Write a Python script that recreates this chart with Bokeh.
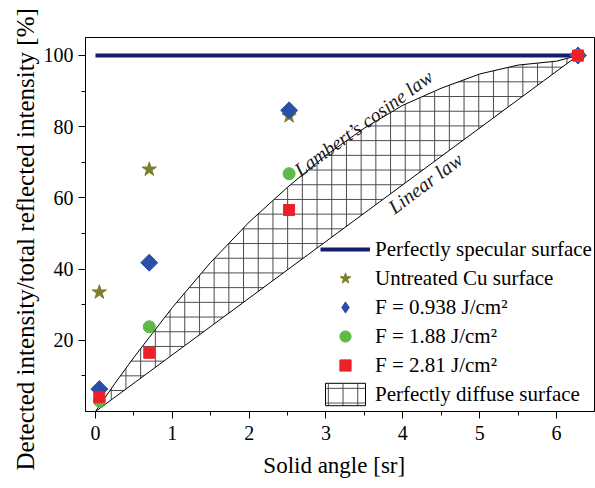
import math
from bokeh.plotting import figure
from bokeh.models import FixedTicker, Legend, LegendItem, Label, Range1d, Title
from bokeh.embed import file_html
from bokeh.resources import INLINE

# ---- data ----
solid_angle = [0.05, 0.70, 2.52, 6.28]
untreated = [33.5, 68.0, 83.0, 100.0]
f_0938 = [6.3, 41.8, 84.6, 100.0]
f_188 = [3.0, 23.8, 66.8, 100.0]
f_281 = [4.0, 16.5, 56.6, 100.0]

specular_x = [0.0, 6.28]
specular_y = [100.0, 100.0]

# Lambert's cosine law curve (upper edge); the patch closes back to the origin
# along the straight "linear law" edge
lambert_x = [0.0, 0.25, 0.5, 1.0, 1.5, 2.0, 2.5, 3.0, 3.5, 4.0, 4.5, 5.0, 5.5, 6.0, 6.28]
lambert_y = [0.0, 7.8, 15.2, 29.2, 41.9, 53.2, 63.0, 72.0, 79.6, 86.0, 90.8, 94.8, 97.3, 98.4, 100.0]

x_ticks = [0, 1, 2, 3, 4, 5, 6]
x_minor = [0.5, 1.5, 2.5, 3.5, 4.5, 5.5]
y_ticks = [20, 40, 60, 80, 100]
y_minor = [10, 30, 50, 70, 90]

labels = ["Perfectly specular surface", "Untreated Cu surface",
          "F = 0.938 J/cm\u00b2", "F = 1.88 J/cm\u00b2", "F = 2.81 J/cm\u00b2",
          "Perfectly diffuse surface"]
x_title = "Solid angle [sr]"
y_title = "Detected intensity/total reflected intensity [%]"

FONT = "'Liberation Serif', serif"
NB = "\u00a0"

p = figure(width=595, height=488,
           x_range=Range1d(-0.13, 6.495), y_range=Range1d(0, 105.05),
           output_backend="svg", toolbar_location=None,
           min_border_left=85, min_border_right=1, min_border_top=37, min_border_bottom=77)

p.xgrid.visible = False
p.ygrid.visible = False
p.outline_line_color = "black"
p.outline_line_width = 1
p.background_fill_color = "white"
p.border_fill_color = "white"

p.xaxis.ticker = FixedTicker(ticks=x_ticks, minor_ticks=x_minor)
p.yaxis.ticker = FixedTicker(ticks=y_ticks, minor_ticks=y_minor)
p.xaxis.axis_label = x_title + NB * 2

for ax in (p.xaxis, p.yaxis):
    ax.major_tick_out = 7
    ax.major_tick_in = 0
    ax.minor_tick_out = 4
    ax.minor_tick_in = 0
    ax.axis_line_color = "black"
    ax.major_tick_line_color = "black"
    ax.minor_tick_line_color = "black"
    ax.major_label_text_font = FONT
    ax.major_label_text_font_size = "20px"
    ax.major_label_text_color = "black"
    ax.axis_label_text_font = FONT
    ax.axis_label_text_font_style = "normal"
    ax.axis_label_text_color = "black"
p.xaxis.major_label_standoff = 7
p.yaxis.major_label_standoff = 5
p.xaxis.axis_label_text_font_size = "23px"
p.xaxis.axis_label_standoff = 10

# y title as a side title so it can start below the frame bottom like the reference
ytitle = Title(text=y_title, align="left", offset=-59, standoff=3,
               text_font=FONT, text_font_size="25px", text_font_style="normal",
               text_color="black")
p.add_layout(ytitle, "left")

diffuse = p.patch(lambert_x, lambert_y, fill_color=None, line_color="black", line_width=1,
                  hatch_pattern="+", hatch_color="#4a4a4a", hatch_scale=14.7, hatch_weight=1)
specular = p.line(specular_x, specular_y, line_color="#141c6e", line_width=4)
stars = p.scatter(solid_angle, untreated, marker="star", size=15,
                  fill_color="#7d7d2e", line_color="#7d7d2e")
# diamond-shaped swatch used by the legend (hidden under the rotated squares)
diamond_key = p.scatter(solid_angle, f_0938, marker="diamond", size=11,
                        fill_color="#2b4fa6", line_color="#2b4fa6")
diamonds = p.scatter(solid_angle, f_0938, marker="square", angle=math.pi / 4, size=12,
                     fill_color="#2b4fa6", line_color="#2b4fa6")
circles = p.scatter(solid_angle, f_188, marker="circle", size=12,
                    fill_color="#5cba45", line_color="#5cba45")
squares = p.scatter(solid_angle, f_281, marker="square", size=11,
                    fill_color="#ec2028", line_color="#ec2028")

legend = Legend(items=[
    LegendItem(label=labels[0], renderers=[specular]),
    LegendItem(label=labels[1], renderers=[stars]),
    LegendItem(label=labels[2], renderers=[diamond_key]),
    LegendItem(label=labels[3], renderers=[circles]),
    LegendItem(label=labels[4], renderers=[squares]),
    LegendItem(label=labels[5], renderers=[diffuse]),
], location=(235, 3))
legend.border_line_color = None
legend.background_fill_alpha = 0
legend.label_text_font = FONT
legend.label_text_font_size = "21px"
legend.label_text_color = "black"
legend.glyph_width = 50
legend.glyph_height = 28
legend.spacing = 1
legend.padding = 0
legend.margin = 0
legend.label_standoff = 5
p.add_layout(legend)

p.add_layout(Label(x=2.62, y=67.3, text="Lambert\u2019s cosine law", angle=math.radians(36),
                   text_font=FONT, text_font_style="italic", text_font_size="19.5px",
                   text_align="left", text_baseline="alphabetic", text_color="#1a1a1a"))
p.add_layout(Label(x=3.84, y=56.8, text="Linear law", angle=math.radians(37),
                   text_font=FONT, text_font_style="italic", text_font_size="20px",
                   text_align="left", text_baseline="alphabetic", text_color="#1a1a1a"))

open("out.html", "w").write(file_html(p, INLINE))
